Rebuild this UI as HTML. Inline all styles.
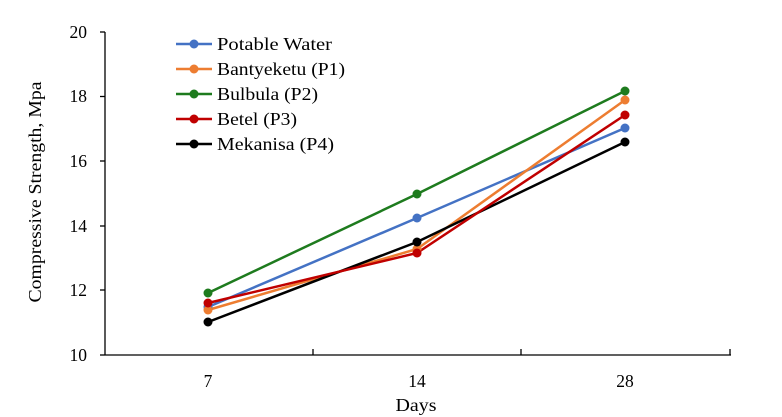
<!DOCTYPE html>
<html><head><meta charset="utf-8"><style>body{margin:0;background:#fff}svg{display:block}svg text{font-family:"Liberation Serif","Times New Roman",serif;font-size:17.5px;fill:#000}</style></head>
<body>
<svg width="782" height="417" xmlns="http://www.w3.org/2000/svg">
<g stroke="#000" stroke-width="1.3">
<line x1="105" y1="32" x2="105" y2="355"/>
<line x1="105" y1="355" x2="731" y2="355"/>
<line x1="100" y1="32" x2="105" y2="32"/>
<line x1="100" y1="96.5" x2="105" y2="96.5"/>
<line x1="100" y1="161" x2="105" y2="161"/>
<line x1="100" y1="226" x2="105" y2="226"/>
<line x1="100" y1="290" x2="105" y2="290"/>
<line x1="100" y1="355" x2="105" y2="355"/>
<line x1="313" y1="349" x2="313" y2="355"/>
<line x1="521" y1="349" x2="521" y2="355"/>
<line x1="730" y1="349" x2="730" y2="355"/>
</g>
<g text-anchor="end">
<text x="87" y="38">20</text><text x="87" y="102">18</text><text x="87" y="167">16</text>
<text x="87" y="232">14</text><text x="87" y="296">12</text><text x="87" y="361">10</text>
</g>
<g text-anchor="middle">
<text x="208" y="387">7</text><text x="417" y="387">14</text><text x="625" y="387">28</text>
<text x="416" y="411" textLength="41" lengthAdjust="spacingAndGlyphs">Days</text>
</g>
<text transform="translate(41,192) rotate(-90)" text-anchor="middle" textLength="221" lengthAdjust="spacingAndGlyphs">Compressive Strength, Mpa</text>
<g fill="none" stroke-width="2.5">
<polyline stroke="#4472c4" points="208,307 417,218 625,128"/>
<polyline stroke="#ed7d31" points="208,310 417,249 625,100"/>
<polyline stroke="#1e7b1e" points="208,293 417,194 625,91"/>
<polyline stroke="#000" points="208,322 417,242 625,142"/>
<polyline stroke="#c00000" points="208,303 417,253 625,115"/>
</g>
<g>
<g fill="#4472c4"><circle cx="208" cy="307" r="4.5"/><circle cx="417" cy="218" r="4.5"/><circle cx="625" cy="128" r="4.5"/></g>
<g fill="#ed7d31"><circle cx="208" cy="310" r="4.5"/><circle cx="417" cy="249" r="4.5"/><circle cx="625" cy="100" r="4.5"/></g>
<g fill="#1e7b1e"><circle cx="208" cy="293" r="4.5"/><circle cx="417" cy="194" r="4.5"/><circle cx="625" cy="91" r="4.5"/></g>
<g fill="#000"><circle cx="208" cy="322" r="4.5"/><circle cx="417" cy="242" r="4.5"/><circle cx="625" cy="142" r="4.5"/></g>
<g fill="#c00000"><circle cx="208" cy="303" r="4.5"/><circle cx="417" cy="253" r="4.5"/><circle cx="625" cy="115" r="4.5"/></g>
</g>
<g stroke-width="2.5">
<line x1="176" y1="44" x2="212" y2="44" stroke="#4472c4"/><circle cx="194" cy="44" r="4.5" fill="#4472c4"/>
<line x1="176" y1="69" x2="212" y2="69" stroke="#ed7d31"/><circle cx="194" cy="69" r="4.5" fill="#ed7d31"/>
<line x1="176" y1="94" x2="212" y2="94" stroke="#1e7b1e"/><circle cx="194" cy="94" r="4.5" fill="#1e7b1e"/>
<line x1="176" y1="119" x2="212" y2="119" stroke="#c00000"/><circle cx="194" cy="119" r="4.5" fill="#c00000"/>
<line x1="176" y1="144" x2="212" y2="144" stroke="#000"/><circle cx="194" cy="144" r="4.5" fill="#000"/>
</g>
<g>
<text x="217" y="50" textLength="115" lengthAdjust="spacingAndGlyphs">Potable Water</text>
<text x="217" y="75" textLength="128" lengthAdjust="spacingAndGlyphs">Bantyeketu (P1)</text>
<text x="217" y="100" textLength="101" lengthAdjust="spacingAndGlyphs">Bulbula (P2)</text>
<text x="217" y="125" textLength="80" lengthAdjust="spacingAndGlyphs">Betel (P3)</text>
<text x="217" y="150" textLength="117" lengthAdjust="spacingAndGlyphs">Mekanisa (P4)</text>
</g>
</svg>
</body></html>
